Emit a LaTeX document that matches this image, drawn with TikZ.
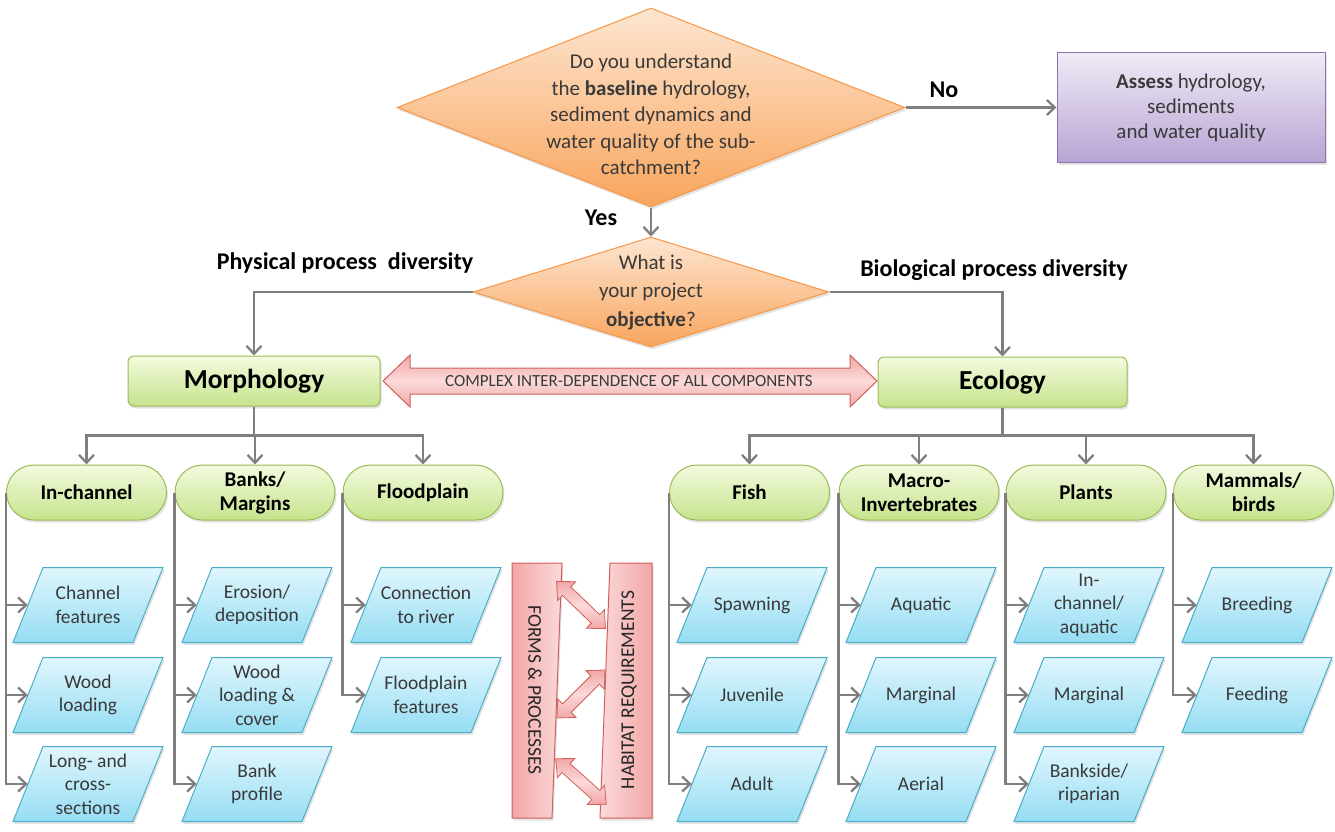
\documentclass[tikz,border=0pt]{standalone}
\usepackage{fontspec}
\setmainfont{Carlito}
\usetikzlibrary{shapes.geometric,shapes.misc,arrows.meta,shadows}
\definecolor{lineg}{HTML}{7F7F7F}
\definecolor{txtg}{HTML}{3A3A3A}
\definecolor{orgB}{HTML}{F79646}
\definecolor{orgT}{HTML}{FDE6D2}
\definecolor{orgBot}{HTML}{F9A55C}
\definecolor{grnB}{HTML}{9BBB59}
\definecolor{grnT}{HTML}{F3FBDF}
\definecolor{grnBot}{HTML}{C6E38C}
\definecolor{bluB}{HTML}{4BACC6}
\definecolor{bluT}{HTML}{E0F6FD}
\definecolor{bluBot}{HTML}{96DDF3}
\definecolor{purB}{HTML}{8C72B0}
\definecolor{purT}{HTML}{F0EBF6}
\definecolor{purBot}{HTML}{B8A4D4}
\definecolor{redB}{HTML}{D0605C}
\definecolor{redF}{HTML}{F2A6A6}
\definecolor{redL}{HTML}{FBDADA}
\newcommand\myPara[4]{%
  \path[parashape] ({#2-75},{#3+37.5}) -- ({#2-45},{#3-37.5}) -- ({#2+75},{#3-37.5}) -- ({#2+45},{#3+37.5}) -- cycle;
  \node[ptext, minimum width=120pt, minimum height=75pt, inner sep=0pt] (#1) at (#2,#3) {#4};}
\newcommand\myFat[3]{%
  \begin{scope}[shift={(#1,#2)}, rotate=#3]
  \path[draw=redB, line width=0.8pt, top color=redF, bottom color=redF, middle color=redL]
    (-34,0) -- (-20,-13) -- (-20,-6) -- (20,-6) -- (20,-13) -- (34,0)
    -- (20,13) -- (20,6) -- (-20,6) -- (-20,13) -- cycle;
  \end{scope}}
\begin{document}
\begin{tikzpicture}[x=1pt,y=-1pt,
  line/.style={draw=lineg, line width=2.3pt},
  arr/.style={line, -{Straight Barb[length=8pt,width=15pt]}},
  shd/.style={drop shadow={opacity=0.22,shadow xshift=1.5pt,shadow yshift=-2.5pt}},
  diam/.style={diamond, draw=orgB, line width=1pt, top color=orgT, bottom color=orgBot, inner sep=0pt, shd},
  dtext/.style={font=\fontsize{21}{26.5}\selectfont, align=center, text=txtg},
  bigbox/.style={rectangle, rounded corners=6pt, draw=grnB, line width=1pt, top color=grnT, bottom color=grnBot, font=\bfseries\fontsize{27.5}{30}\selectfont, shd},
  stad/.style={rounded rectangle, draw=grnB, line width=1pt, top color=grnT, bottom color=grnBot, minimum width=160pt, minimum height=55pt, inner sep=0pt, font=\bfseries\fontsize{21}{24}\selectfont, align=center, shd},
  parashape/.style={draw=bluB, line width=1pt, top color=bluT, bottom color=bluBot, shd},
  ptext/.style={font=\fontsize{19.5}{23.5}\selectfont, align=center, text=txtg},
  lab/.style={font=\bfseries\fontsize{24}{26}\selectfont}
]
\useasboundingbox (0,0) rectangle (1335,832);

% decisions
\node[diam, minimum width=508pt, minimum height=199pt, label={[dtext,yshift=-7pt]center:{Do you understand\\the \textbf{baseline} hydrology,\\sediment dynamics and\\water quality of the sub-\\catchment?}}] (d1) at (651,107.5) {};
\node[rectangle, draw=purB, line width=1pt, top color=purT, bottom color=purBot, minimum width=268pt, minimum height=109pt, font=\fontsize{21}{25}\selectfont, align=center, text=txtg, shd] (as) at (1191,107.5) {\textbf{Assess} hydrology,\\sediments\\and water quality};
\node[diam, minimum width=356pt, minimum height=110pt, label={[dtext,font=\fontsize{21}{28.5}\selectfont]center:{What is\\your project\\\textbf{objective}?}}] (d2) at (651,292) {};

\draw[arr] (d1.east) -- (as.west);
\draw[arr] (d1.south) -- (d2.north);
\node[lab] (no) at (944,90) {No};
\node[lab] (yes) at (601,218) {Yes};
\node[lab] (phy) at (345,263) {Physical process\ \ diversity};
\node[lab] (bio) at (994,270) {Biological process diversity};

% main boxes
\node[bigbox, minimum width=252pt, minimum height=50pt] (mo) at (254,381) {Morphology};
\node[bigbox, minimum width=249pt, minimum height=50pt] (ec) at (1002.5,382) {Ecology};
\draw[arr] (d2.west) -| (mo.north);
\draw[arr] (d2.east) -| (ec.north);

% complex inter-dependence arrow
\path[draw=redB, line width=1pt, top color=redF, bottom color=redF, middle color=redL]
  (383,381) -- (410,355) -- (410,368) -- (850,368) -- (850,355) -- (877,381)
  -- (850,407) -- (850,394) -- (410,394) -- (410,407) -- cycle;
\node[font=\fontsize{17}{18}\selectfont, text=txtg] (cx) at (629,381) {COMPLEX INTER-DEPENDENCE OF ALL COMPONENTS};

% level 2
\node[stad] (ic) at (86.5,492.5) {In-channel};
\node[stad] (bm) at (255,492.5) {Banks/\\Margins};
\node[stad] (fp) at (423,492.5) {Floodplain};
\node[stad] (fi) at (749.5,492.5) {Fish};
\node[stad] (mi) at (919,492.5) {Macro-\\Invertebrates};
\node[stad] (pl) at (1086,492.5) {Plants};
\node[stad] (mb) at (1253.5,492.5) {Mammals/\\birds};

\draw[arr] (mo.south) -- ++(0,29) -| (ic.north);
\draw[arr] (mo.south) -- ++(0,29) -| (bm.north);
\draw[arr] (mo.south) -- ++(0,29) -| (fp.north);
\draw[arr] (ec.south) -- ++(0,28) -| (fi.north);
\draw[arr] (ec.south) -- ++(0,28) -| (mi.north);
\draw[arr] (ec.south) -- ++(0,28) -| (pl.north);
\draw[arr] (ec.south) -- ++(0,28) -| (mb.north);

% parallelograms
\myPara{a1}{88}{605}{Channel\\features}
\myPara{a2}{88}{695}{Wood\\loading}
\myPara{a3}{88}{784}{Long- and\\cross-\\sections}
\myPara{b1}{257}{605}{Erosion/\\deposition}
\myPara{b2}{257}{695}{Wood\\loading \&\\cover}
\myPara{b3}{257}{784}{Bank\\profile}
\myPara{c1}{426}{605}{Connection\\to river}
\myPara{c2}{426}{695}{Floodplain\\features}
\myPara{e1}{752}{605}{Spawning}
\myPara{e2}{752}{695}{Juvenile}
\myPara{e3}{752}{784}{Adult}
\myPara{f1}{921}{605}{Aquatic}
\myPara{f2}{921}{695}{Marginal}
\myPara{f3}{921}{784}{Aerial}
\myPara{g1}{1089}{605}{In-\\channel/\\aquatic}
\myPara{g2}{1089}{695}{Marginal}
\myPara{g3}{1089}{784}{Bankside/\\riparian}
\myPara{h1}{1257}{605}{Breeding}
\myPara{h2}{1257}{695}{Feeding}

\draw[arr] (ic.west) |- (a3.west);
\draw[arr] (ic.west |- a1.west) -- (a1.west);
\draw[arr] (ic.west |- a2.west) -- (a2.west);
\draw[arr] (bm.west) |- (b3.west);
\draw[arr] (bm.west |- b1.west) -- (b1.west);
\draw[arr] (bm.west |- b2.west) -- (b2.west);
\draw[arr] (fp.west) |- (c2.west);
\draw[arr] (fp.west |- c1.west) -- (c1.west);
\draw[arr] (fi.west) |- (e3.west);
\draw[arr] (fi.west |- e1.west) -- (e1.west);
\draw[arr] (fi.west |- e2.west) -- (e2.west);
\draw[arr] (mi.west) |- (f3.west);
\draw[arr] (mi.west |- f1.west) -- (f1.west);
\draw[arr] (mi.west |- f2.west) -- (f2.west);
\draw[arr] (pl.west) |- (g3.west);
\draw[arr] (pl.west |- g1.west) -- (g1.west);
\draw[arr] (pl.west |- g2.west) -- (g2.west);
\draw[arr] (mb.west) |- (h2.west);
\draw[arr] (mb.west |- h1.west) -- (h1.west);

% forms & processes / habitat requirements
\path[draw=redB, line width=1pt, left color=redF, right color=redL, shd]
  (512,563) -- (562,563) -- (552,818) -- (512,818) -- cycle;
\path[draw=redB, line width=1pt, left color=redL, right color=redF, shd]
  (610,563) -- (652,563) -- (652,818) -- (600,818) -- cycle;
\node[rotate=-90, font=\fontsize{19.5}{20}\selectfont, text=black!85] (fpx) at (535,690) {FORMS \& PROCESSES};
\node[rotate=90, font=\fontsize{19.5}{20}\selectfont, text=black!85] (hrx) at (629,690) {HABITAT REQUIREMENTS};
\myFat{581}{605}{-44}
\myFat{581}{694}{45}
\myFat{581}{781.5}{-42}
\end{tikzpicture}
\end{document}
